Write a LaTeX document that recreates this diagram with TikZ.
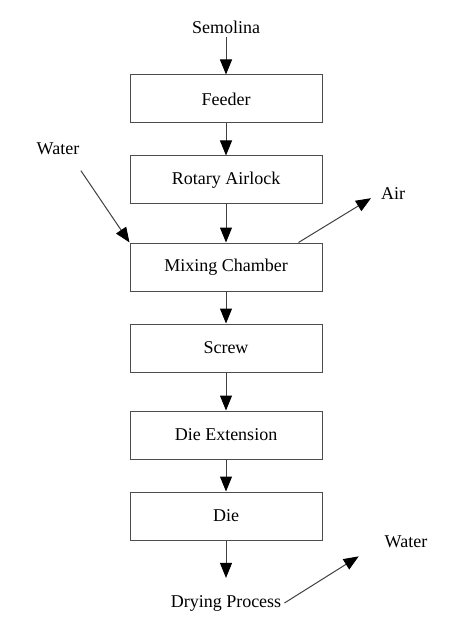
\documentclass[tikz,border=0pt]{standalone}
\usepackage{fontspec}
\setmainfont{Liberation Serif}
\usetikzlibrary{arrows.meta}

\begin{document}
\begin{tikzpicture}
[x=1pt,y=-1pt,%
  >={Triangle[length=15pt,width=12pt,color=black]},%
  flow/.style={->,draw=black!75,line width=1pt},%
  every node/.style={font=\fontsize{18}{21}\selectfont,inner sep=3pt},%
  stage/.style={shape=rectangle,draw=black!70,line width=1pt,%
    minimum width=192pt,minimum height=48pt,inner sep=0pt}]
\useasboundingbox (0,0) rectangle (459,644);
% process line
\node (semolina) at (226,27) {Semolina};
\node[stage] (feeder) at (226,99) {Feeder};
\node[stage] (airlock) at (226,180) {Rotary Airlock};
\node[stage] (mixing) at (226,267) {Mixing Chamber};
\node[stage] (screw) at (226,348) {Screw};
\node[stage] (dieext) at (226,435) {Die Extension};
\node[stage] (die) at (226,516) {Die};
\node (drying) at (226,603) {Drying Process};
% side streams
\node (waterin) at (58,149) {Water};
\node (air) at (393,194) {Air};
\node (waterout) at (406,542) {Water};
\draw[flow] (semolina) -- (feeder);
\draw[flow] (feeder) -- (airlock);
\draw[flow] (airlock) -- (mixing);
\draw[flow] (mixing) -- (screw);
\draw[flow] (screw) -- (dieext);
\draw[flow] (dieext) -- (die);
\draw[flow,shorten >=14pt] (die) -- (drying);
\draw[flow,shorten <=15pt] ([xshift=-10pt]waterin.south east) -- (mixing.north west);
\draw[flow,shorten >=8pt] ([xshift=-24pt]mixing.north east) -- (air.west);
\draw[flow,shorten >=27pt] (drying.east) -- (waterout.west);
\end{tikzpicture}
\end{document}
